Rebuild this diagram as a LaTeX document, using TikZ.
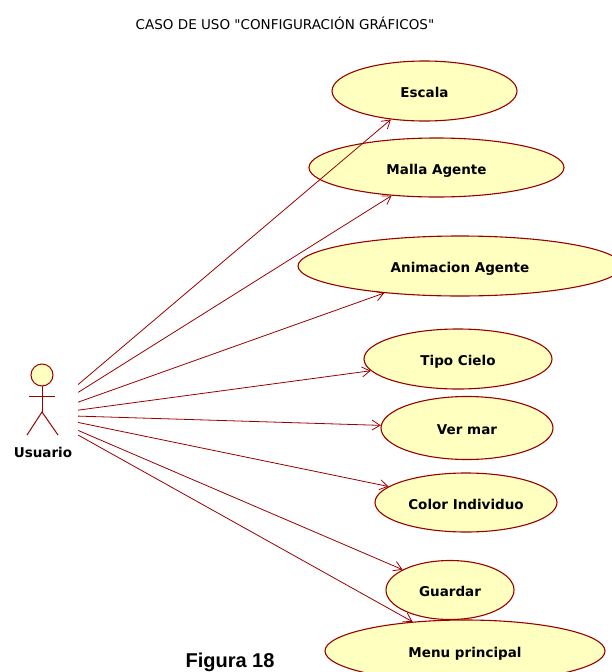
\documentclass[tikz,border=0pt]{standalone}
\usepackage{fontspec}
\setmainfont{DejaVu Sans}
\newfontfamily\figfont{Liberation Sans}
\usetikzlibrary{shapes.geometric,arrows.meta}

\definecolor{ucfill}{HTML}{FFFFC0}
\definecolor{ucline}{HTML}{990000}

\begin{document}
\begin{tikzpicture}[x=1pt,y=-1pt,
  usecase/.style={ellipse, draw=ucline, fill=ucfill, line width=1.1pt, inner sep=0pt,
    text height=13pt, text depth=0pt,
    font=\fontsize{13.5}{16}\selectfont\bfseries},
  assoc/.style={draw=ucline, line width=0.8pt, -{Straight Barb[length=8pt,width=10pt]}},
  stick/.style={draw=ucline, line width=1pt},
]
\useasboundingbox (0,0) rectangle (612,672);

% title
\node[font=\fontsize{13.5}{16}\selectfont] (title) at (285,23)
  {CASO DE USO \textquotedbl CONFIGURACIÓN GRÁFICOS\textquotedbl};

% use cases
\node[usecase, minimum width=185pt, minimum height=60pt] (escala)    at (424.5,91)  {Escala};
\node[usecase, minimum width=255pt, minimum height=59pt] (malla)     at (436.5,167.5) {Malla Agente};
\node[usecase, minimum width=324pt, minimum height=60pt] (animacion) at (460,266)   {Animacion Agente};
\node[usecase, minimum width=188pt, minimum height=60pt] (tipo)      at (458,359)   {Tipo Cielo};
\node[usecase, minimum width=172pt, minimum height=63pt] (vermar)    at (467,428)   {Ver mar};
\node[usecase, minimum width=182pt, minimum height=59pt] (color)     at (466,502.5) {Color Individuo};
\node[usecase, minimum width=128pt, minimum height=59pt] (guardar)   at (450,590)   {Guardar};
\node[usecase, minimum width=280pt, minimum height=62pt] (menu)      at (465,651)   {Menu principal};

% actor
\node[minimum width=72pt, minimum height=110pt, inner sep=0pt] (usuario) at (42,415) {};
\draw[stick, fill=ucfill] (42,375) circle[radius=11pt];
\draw[stick] (42,386) -- (42,412);
\draw[stick] (29,396) -- (55,396);
\draw[stick] (27,435) -- (42,412) -- (58,435);
\node[font=\fontsize{13.5}{16}\selectfont\bfseries] (usuarioname) at (43,452) {Usuario};

% associations
\draw[assoc] (usuario) -- (escala);
\draw[assoc] (usuario) -- (malla);
\draw[assoc] (usuario) -- (animacion);
\draw[assoc] (usuario) -- (tipo);
\draw[assoc] (usuario) -- (vermar);
\draw[assoc] (usuario) -- (color);
\draw[assoc] (usuario) -- (guardar);
\draw[assoc] (usuario) -- (menu);

% caption
\node[font=\figfont\bfseries\fontsize{20}{24}\selectfont, anchor=base] (caption) at (230,667) {Figura 18};
\end{tikzpicture}
\end{document}
